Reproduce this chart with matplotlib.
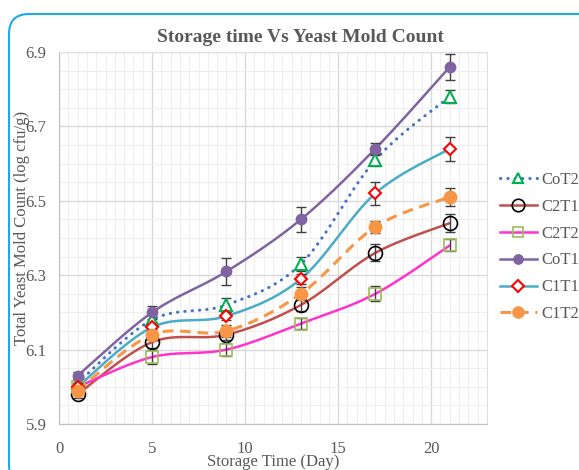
import numpy as np
import matplotlib
matplotlib.use('Agg')
import matplotlib.pyplot as plt
from matplotlib.patches import FancyBboxPatch
from matplotlib.lines import Line2D
from matplotlib.ticker import MultipleLocator

plt.rcParams['font.family'] = ['Liberation Serif', 'DejaVu Serif']

days = [1, 5, 9, 13, 17, 21]
labels = ['CoT2', 'C2T1', 'C2T2', 'CoT1', 'C1T1', 'C1T2']
cot2 = [6.01, 6.18, 6.22, 6.33, 6.61, 6.78]
c2t1 = [5.98, 6.12, 6.14, 6.22, 6.36, 6.44]
c2t2 = [6.00, 6.08, 6.10, 6.17, 6.25, 6.38]
cot1 = [6.03, 6.20, 6.31, 6.45, 6.64, 6.86]
c1t1 = [6.00, 6.16, 6.19, 6.29, 6.52, 6.64]
c1t2 = [5.99, 6.14, 6.15, 6.25, 6.43, 6.51]
err_cot2 = [0.010, 0.015, 0.018, 0.020, 0.016, 0.018]
err_c2t1 = [0.010, 0.015, 0.015, 0.017, 0.023, 0.025]
err_c2t2 = [0.010, 0.018, 0.017, 0.014, 0.020, 0.016]
err_cot1 = [0.010, 0.018, 0.035, 0.034, 0.016, 0.034]
err_c1t1 = [0.010, 0.015, 0.010, 0.013, 0.030, 0.032]
err_c1t2 = [0.010, 0.015, 0.015, 0.017, 0.017, 0.025]
y_ticks = [5.9, 6.1, 6.3, 6.5, 6.7, 6.9]

values = [cot2, c2t1, c2t2, cot1, c1t1, c1t2]
errors = [err_cot2, err_c2t1, err_c2t2, err_cot1, err_c1t1, err_c1t2]

styles = [
    dict(color='#4472C4', ls=(0, (0.1, 2.3)), lw=2.2, marker='^', mfc='white', mec='#00B050', ms=8, mew=1.5, cap='round'),
    dict(color='#C0504D', ls='-', lw=1.8, marker='o', mfc='none', mec='black', ms=10, mew=1.2, cap='butt'),
    dict(color='#FF33CC', ls='-', lw=1.8, marker='s', mfc='none', mec='#9BBB59', ms=8, mew=1.2, cap='butt'),
    dict(color='#8064A2', ls='-', lw=1.8, marker='o', mfc='#8064A2', mec='#8064A2', ms=7.5, mew=1.0, cap='butt'),
    dict(color='#4BACC6', ls='-', lw=1.8, marker='D', mfc='white', mec='#FF0000', ms=6.5, mew=1.5, cap='butt'),
    dict(color='#F79646', ls=(0, (3.5, 2.2)), lw=2.2, marker='o', mfc='#F79646', mec='#F79646', ms=9, mew=1.0, cap='butt'),
]


def smooth(x, y, n=40):
    P = np.column_stack([np.asarray(x, float), np.asarray(y, float)])
    Pe = np.vstack([P[0], P, P[-1]])
    out = []
    t = np.linspace(0, 1, n)[:, None]
    for i in range(len(P) - 1):
        p0, p1, p2, p3 = Pe[i], Pe[i + 1], Pe[i + 2], Pe[i + 3]
        c1 = p1 + (p2 - p0) / 6.0
        c2 = p2 - (p3 - p1) / 6.0
        seg = (1 - t) ** 3 * p1 + 3 * (1 - t) ** 2 * t * c1 + 3 * (1 - t) * t ** 2 * c2 + t ** 3 * p2
        out.append(seg if i == 0 else seg[1:])
    s = np.vstack(out)
    return s[:, 0], s[:, 1]


W, H = 579, 470
fig = plt.figure(figsize=(W / 100, H / 100), dpi=100)
ax = fig.add_axes([59 / W, (H - 424) / H, 428 / W, 372 / H])

tc = '#595959'

handles = []
for vals, errs, st, lab in zip(values, errors, styles, labels):
    sx, sy = smooth(days, vals)
    ax.plot(sx, sy, color=st['color'], ls=st['ls'], lw=st['lw'], solid_capstyle='round',
            dash_capstyle=st['cap'], zorder=3)
    ax.errorbar(days, vals, yerr=errs, fmt='none', ecolor='#404040', elinewidth=1.0,
                capsize=3.5, capthick=1.0, zorder=4)
    ax.plot(days, vals, ls='none', marker=st['marker'], mfc=st['mfc'], mec=st['mec'],
            ms=st['ms'], mew=st['mew'], zorder=5)
    handles.append(Line2D([], [], color=st['color'], ls=st['ls'], lw=st['lw'],
                          dash_capstyle=st['cap'], marker=st['marker'], mfc=st['mfc'],
                          mec=st['mec'], ms=st['ms'] * 0.9, mew=st['mew']))

ax.set_xlim(0, 23)
ax.set_ylim(5.9, 6.9)
ax.xaxis.set_major_locator(MultipleLocator(5))
ax.xaxis.set_minor_locator(MultipleLocator(0.5))
ax.yaxis.set_minor_locator(MultipleLocator(0.05))
ax.set_yticks(y_ticks)
ax.set_yticklabels([f'{v:.1f}' for v in y_ticks])
ax.grid(which='major', color='#D9D9D9', lw=1.0)
ax.grid(which='minor', color='#EFEFEF', lw=0.8)
ax.set_axisbelow(True)
ax.tick_params(which='both', length=0)
ax.tick_params(axis='y', pad=9, labelsize=12, labelcolor=tc)
ax.tick_params(axis='x', pad=12, labelsize=12, labelcolor=tc)
for side in ['top', 'right']:
    ax.spines[side].set_color('#E0E0E0')
for side in ['left', 'bottom']:
    ax.spines[side].set_color('#BFBFBF')

fig.text(273 / W, (H - 462) / H, 'Storage Time (Day)', ha='center', va='center',
         fontsize=12, color=tc)
fig.text(22 / W, (H - 228) / H, 'Total Yeast Mold Count (log cfu/g)', ha='center', va='center',
         rotation=90, fontsize=12, color=tc)
fig.text(300 / W, (H - 37) / H, 'Storage time Vs Yeast Mold Count', ha='center', va='center',
         fontsize=14, weight='bold', color=tc)

fig.legend(handles, labels, loc='upper left', bbox_to_anchor=(500 / W, (H - 172) / H),
           frameon=False, prop={'size': 12}, labelcolor=tc,
           handlelength=2.2, handletextpad=0.3, labelspacing=0.65, borderpad=0,
           borderaxespad=0, numpoints=1)

border = FancyBboxPatch((0.09, -0.15), 6.2, 4.56 + 0.15,
                        boxstyle='round,pad=0,rounding_size=0.2',
                        transform=fig.dpi_scale_trans, fill=False,
                        edgecolor='#1DA8E6', lw=1.5, clip_on=False)
fig.add_artist(border)

fig.savefig('out.png', dpi=100)
